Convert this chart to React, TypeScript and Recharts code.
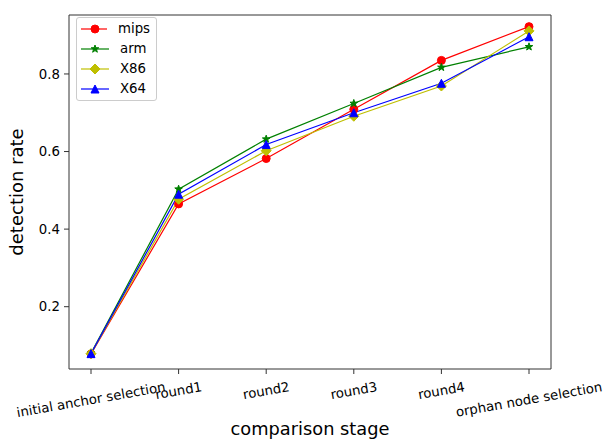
import React from 'react';
import { LineChart, Line, XAxis, YAxis, Legend } from 'recharts';

const STAGES = ['initial anchor selection', 'round1', 'round2', 'round3', 'round4', 'orphan node selection'];
const MIPS = [0.078, 0.465, 0.582, 0.709, 0.835, 0.922];
const ARM = [0.080, 0.503, 0.632, 0.724, 0.817, 0.870];
const X86 = [0.079, 0.477, 0.602, 0.691, 0.769, 0.911];
const X64 = [0.079, 0.490, 0.618, 0.700, 0.776, 0.896];
const Y_TICKS = [0.2, 0.4, 0.6, 0.8];
const SERIES_NAMES = ['mips', 'arm', 'X86', 'X64'];
const SERIES_VALUES = [MIPS, ARM, X86, X64];
const SERIES_COLORS = ['#ff0000', '#008000', '#bfbf00', '#0000ff'];
const SERIES_SHAPES = ['circle', 'star', 'diamond', 'triangle'];

const data = STAGES.map((stage, i) => {
  const row: any = { stage };
  SERIES_NAMES.forEach((n, k) => { row[n] = SERIES_VALUES[k][i]; });
  return row;
});

const FONT = "'DejaVu Sans', sans-serif";
const TICK_SIZE = 13.3;
const SPINE = '#333333';
const Y_DOMAIN: [number, number] = [0.0394, 0.952];

function measure(text: string, size: number): number {
  try {
    const c = document.createElement('canvas');
    const ctx = c.getContext('2d');
    if (ctx) {
      ctx.font = `${size}px 'DejaVu Sans'`;
      return ctx.measureText(text).width;
    }
  } catch (e) {}
  return text.length * size * 0.6;
}

function Marker({ cx, cy, shape, color }: any) {
  if (cx == null || cy == null) return null;
  if (shape === 'circle') return <circle cx={cx} cy={cy} r={4} fill={color} stroke={color} strokeWidth={1} />;
  if (shape === 'diamond') {
    const r = 5;
    return <polygon points={`${cx},${cy - r} ${cx + r},${cy} ${cx},${cy + r} ${cx - r},${cy}`} fill={color} stroke={color} strokeWidth={1} />;
  }
  if (shape === 'triangle') {
    const r = 4;
    return <polygon points={`${cx},${cy - r} ${cx + r},${cy + r} ${cx - r},${cy + r}`} fill={color} stroke={color} strokeWidth={1} />;
  }
  const R = 4, ri = 1.6;
  const pts: string[] = [];
  for (let i = 0; i < 10; i++) {
    const a = -Math.PI / 2 + (i * Math.PI) / 5;
    const rr = i % 2 === 0 ? R : ri;
    pts.push(`${cx + rr * Math.cos(a)},${cy + rr * Math.sin(a)}`);
  }
  return <polygon points={pts.join(' ')} fill={color} stroke={color} strokeWidth={1} />;
}

function XTick(props: any) {
  const { x, y, payload } = props;
  const text = String(payload.value);
  const w = measure(text, TICK_SIZE);
  const h = TICK_SIZE * 1.17;
  const ang = (10 * Math.PI) / 180;
  const bboxH = w * Math.sin(ang) + h * Math.cos(ang);
  const cy = y + bboxH / 2;
  return (
    <text x={x} y={cy} textAnchor="middle" dominantBaseline="central" fontFamily={FONT} fontSize={TICK_SIZE} fill="#000" transform={`rotate(-10, ${x}, ${cy})`}>
      {text}
    </text>
  );
}

function LegendBox() {
  return (
    <div style={{ border: '1px solid #cccccc', borderRadius: 3, background: 'rgba(255,255,255,0.8)', padding: '1px 6px 1px 4px', fontFamily: FONT, fontSize: TICK_SIZE, color: '#000', boxSizing: 'border-box', width: 81 }}>
      {SERIES_NAMES.map((n, k) => (
        <div key={n} style={{ display: 'flex', alignItems: 'center', height: 20 }}>
          <svg width={28} height={20} style={{ display: 'block' }}>
            <line x1={0} y1={10} x2={28} y2={10} stroke={SERIES_COLORS[k]} strokeWidth={1.2} />
            <Marker cx={14} cy={10} shape={SERIES_SHAPES[k]} color={SERIES_COLORS[k]} />
          </svg>
          <span style={{ marginLeft: 11, lineHeight: '20px' }}>{n}</span>
        </div>
      ))}
    </div>
  );
}

export default function App() {
  return (
    <div style={{ position: 'absolute', left: 0, top: 0, background: '#fff' }}>
      <LineChart width={604} height={442} data={data} margin={{ top: 14, right: 52, left: 0, bottom: 0 }}>
        <XAxis
          dataKey="stage"
          xAxisId="bottom"
          type="category"
          padding={{ left: 22, right: 22 }}
          height={73}
          axisLine={{ stroke: SPINE, strokeWidth: 1 }}
          tickLine={{ stroke: SPINE, strokeWidth: 1 }}
          tickSize={5}
          tickMargin={5}
          interval={0}
          tick={<XTick />}
          label={{
            content: (p: any) => {
              const vb = p.viewBox || {};
              return (
                <text x={vb.x + vb.width / 2} y={vb.y + 65.5} textAnchor="middle" fontFamily={FONT} fontSize={17.8} fill="#000">
                  comparison stage
                </text>
              );
            },
          }}
        />
        <XAxis dataKey="stage" xAxisId="top" type="category" orientation="top" height={1} interval={0} tick={false} tickLine={false} axisLine={{ stroke: SPINE, strokeWidth: 1 }} padding={{ left: 22, right: 22 }} />
        <YAxis
          yAxisId="left"
          type="number"
          domain={Y_DOMAIN}
          ticks={Y_TICKS}
          width={69}
          axisLine={{ stroke: SPINE, strokeWidth: 1 }}
          tickLine={{ stroke: SPINE, strokeWidth: 1 }}
          tickSize={5}
          tickMargin={4}
          tickFormatter={(v: number) => v.toFixed(1)}
          tick={{ fontFamily: FONT, fontSize: TICK_SIZE, fill: '#000' }}
          allowDataOverflow
          label={{
            content: (p: any) => {
              const vb = p.viewBox || {};
              const cy = vb.y + vb.height / 2;
              const cx = vb.x + 16;
              return (
                <text x={cx} y={cy} textAnchor="middle" dominantBaseline="central" fontFamily={FONT} fontSize={18} fill="#000" transform={`rotate(-90, ${cx}, ${cy})`}>
                  detection rate
                </text>
              );
            },
          }}
        />
        <YAxis yAxisId="right" orientation="right" type="number" domain={Y_DOMAIN} allowDataOverflow width={1} tick={false} tickLine={false} axisLine={{ stroke: SPINE, strokeWidth: 1 }} />
        {SERIES_NAMES.map((n, k) => {
          const last = k === SERIES_NAMES.length - 1;
          return (
            <Line
              key={n}
              xAxisId={last ? 'top' : 'bottom'}
              yAxisId={last ? 'right' : 'left'}
              type="linear"
              dataKey={n}
              name={n}
              stroke={SERIES_COLORS[k]}
              strokeWidth={1.2}
              isAnimationActive={false}
              activeDot={false}
              dot={(p: any) => <Marker key={`${n}-${p.index}`} cx={p.cx} cy={p.cy} shape={SERIES_SHAPES[k]} color={SERIES_COLORS[k]} />}
            />
          );
        })}
        <Legend
          layout="vertical"
          align="center"
          verticalAlign="middle"
          wrapperStyle={{ left: 76, top: 17, width: 'auto', height: 'auto' }}
          content={() => <LegendBox />}
        />
      </LineChart>
    </div>
  );
}
